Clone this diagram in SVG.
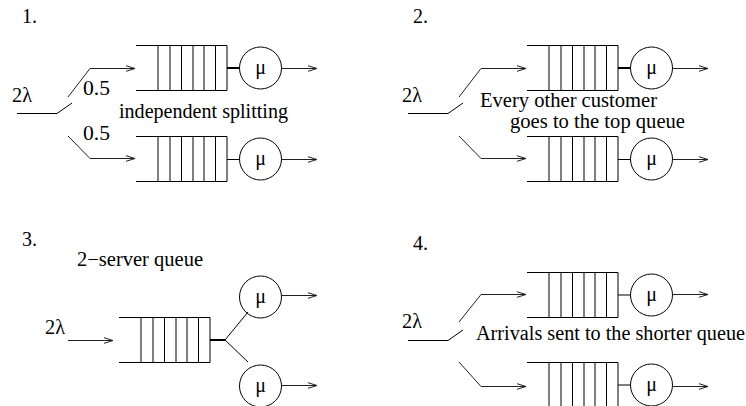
<svg xmlns="http://www.w3.org/2000/svg" xmlns:xlink="http://www.w3.org/1999/xlink" width="746" height="406" viewBox="0 0 746 406">
<style>
  text { font-family: "Liberation Serif", "Times New Roman", "DejaVu Serif", serif; font-size: 20px; fill: #000; }
  .mu { text-anchor: middle; }
  .ln { fill: none; stroke: #000; stroke-width: 1; }
  .ar { fill: none; stroke: #222; stroke-width: 1; marker-end: url(#ah); }
  .stub { fill: none; stroke: #000; stroke-width: 2; }
  .srv { fill: #fff; stroke: #000; stroke-width: 1; }
</style>
<defs>
  <marker id="ah" markerUnits="userSpaceOnUse" markerWidth="12" markerHeight="10" viewBox="-10 -5 12 10" refX="0" refY="0" orient="auto">
    <path d="M-9,-2.8 L0,0 L-9,2.8" fill="none" stroke="#222" stroke-width="1"/>
  </marker>
  <g id="queue">
    <path class="ln" d="M0,0 H91 M0,45 H91 M22,0 V45 M34,0 V45 M45.5,0 V45 M57,0 V45 M68,0 V45 M79.5,0 V45 M91,0 V45"/>
  </g>
</defs>

<g id="labels">
  <text x="22" y="23">1.</text>
  <text x="413" y="23">2.</text>
  <text x="22" y="246">3.</text>
  <text x="413" y="250">4.</text>
  <text x="12" y="102" textLength="20" lengthAdjust="spacingAndGlyphs">2λ</text>
  <text x="83" y="95" textLength="27" lengthAdjust="spacingAndGlyphs">0.5</text>
  <text x="83" y="140" textLength="27" lengthAdjust="spacingAndGlyphs">0.5</text>
  <text x="119" y="118" textLength="169" lengthAdjust="spacingAndGlyphs">independent splitting</text>
  <text x="402" y="102" textLength="20" lengthAdjust="spacingAndGlyphs">2λ</text>
  <text x="480" y="107" textLength="177" lengthAdjust="spacingAndGlyphs">Every other customer</text>
  <text x="510" y="128" textLength="175" lengthAdjust="spacingAndGlyphs">goes to the top queue</text>
  <text x="77" y="266" textLength="126" lengthAdjust="spacingAndGlyphs">2−server queue</text>
  <text x="45" y="334" textLength="20" lengthAdjust="spacingAndGlyphs">2λ</text>
  <text x="402" y="328" textLength="20" lengthAdjust="spacingAndGlyphs">2λ</text>
  <text x="476" y="340" textLength="269" lengthAdjust="spacingAndGlyphs">Arrivals sent to the shorter queue</text>
</g>

<g id="queue1a"><use xlink:href="#queue" x="136" y="45.5"/></g>
<g id="queue1b"><use xlink:href="#queue" x="136" y="136.5"/></g>
<g id="queue2a"><use xlink:href="#queue" x="527" y="45.5"/></g>
<g id="queue2b"><use xlink:href="#queue" x="527" y="136.5"/></g>
<g id="queue3"><use xlink:href="#queue" x="119" y="317.5"/></g>
<g id="queue4a"><use xlink:href="#queue" x="527" y="272.5"/></g>
<g id="queue4b"><use xlink:href="#queue" x="527" y="362.5"/></g>

<g id="server1a"><circle class="srv" cx="260.5" cy="68" r="21"/><text class="mu" x="260.5" y="74">μ</text></g>
<g id="server1b"><circle class="srv" cx="260.5" cy="159" r="21"/><text class="mu" x="260.5" y="165">μ</text></g>
<g id="server2a"><circle class="srv" cx="651.5" cy="68" r="21"/><text class="mu" x="651.5" y="74">μ</text></g>
<g id="server2b"><circle class="srv" cx="651.5" cy="159" r="21"/><text class="mu" x="651.5" y="165">μ</text></g>
<g id="server3a"><circle class="srv" cx="260.5" cy="297" r="21"/><text class="mu" x="260.5" y="303">μ</text></g>
<g id="server3b"><circle class="srv" cx="260.5" cy="386" r="21"/><text class="mu" x="260.5" y="392">μ</text></g>
<g id="server4a"><circle class="srv" cx="651.5" cy="295" r="21"/><text class="mu" x="651.5" y="301">μ</text></g>
<g id="server4b"><circle class="srv" cx="651.5" cy="385" r="21"/><text class="mu" x="651.5" y="391">μ</text></g>

<g id="connectors">
  <!-- panel 1 -->
  <polyline class="ln" points="17,113.5 57,113.5 72,103"/>
  <polyline class="ar" points="68,97 90,68.5 135,68.5"/>
  <polyline class="ar" points="68,136 90,158.5 135,158.5"/>
  <path class="stub" d="M227,68 H239.5"/>
  <path class="ln" d="M227,159.5 H239.5"/>
  <path class="ar" d="M281.5,68.5 H317"/>
  <path class="ar" d="M281.5,159.5 H317"/>
  <!-- panel 2 -->
  <polyline class="ln" points="408,113.5 448,113.5 463,103"/>
  <polyline class="ar" points="459,97 481,68.5 526,68.5"/>
  <polyline class="ar" points="459,136 481,158.5 526,158.5"/>
  <path class="stub" d="M618,68 H630.5"/>
  <path class="ln" d="M618,159.5 H630.5"/>
  <path class="ar" d="M672.5,68.5 H708"/>
  <path class="ar" d="M672.5,159.5 H708"/>
  <!-- panel 3 -->
  <path class="ar" d="M68,340.5 H113"/>
  <path class="stub" d="M210,340 H225"/>
  <path class="ln" d="M225,340 L248,312 M225,340 L248,362"/>
  <path class="ar" d="M281.5,295.5 H317"/>
  <path class="ar" d="M281.5,385.5 H317"/>
  <!-- panel 4 -->
  <polyline class="ln" points="408,340.5 448,340.5 463,330"/>
  <polyline class="ar" points="459,322 481,294.5 526,294.5"/>
  <polyline class="ar" points="459,362 481,386.5 526,386.5"/>
  <path class="ln" d="M618,295 H630.5 M618,385 H630.5"/>
  <path class="ar" d="M672.5,294.5 H708"/>
  <path class="ar" d="M672.5,386.5 H708"/>
</g>
</svg>
